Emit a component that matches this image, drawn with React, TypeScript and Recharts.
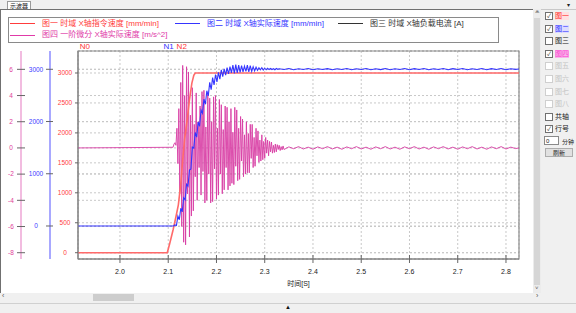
import React from 'react';
import { LineChart, Line, XAxis, YAxis, CartesianGrid, ReferenceLine, ReferenceArea } from 'recharts';

// 曲线名称 / 颜色
const seriesNames = [
  '图一 时域 X轴指令速度 [mm/min]',
  '图二 时域 X轴实际速度 [mm/min]',
  '图三 时域 X轴负载电流 [A]',
  '图四 一阶微分 X轴实际速度 [m/s^2]',
];
const seriesColors = ['#ff3c3c', '#3535ff', '#333333', '#e03aa8'];

// 刻度
const timeTicks = [2.0, 2.1, 2.2, 2.3, 2.4, 2.5, 2.6, 2.7, 2.8];
const cmdTicks = [0, 500, 1000, 1500, 2000, 2500, 3000];
const actTicks = [0, 1000, 2000, 3000];
const accTicks = [-8, -6, -4, -2, 0, 2, 4, 6];

// 光标
const cursorNames = ['N0', 'N1', 'N2'];
const cursorTimes = [1.927, 2.101, 2.128];
const cursorColors = ['#ff3333', '#3333ff', '#ff3333'];

// 图一 指令速度
const cmdTime = [1.913, 2.098, 2.103, 2.110, 2.116, 2.121, 2.126, 2.130, 2.134, 2.139, 2.144, 2.149, 2.153, 2.156, 2.827];
const cmdSpeed = [0, 0, 150, 380, 600, 800, 1150, 1550, 1900, 2200, 2550, 2830, 2960, 3000, 3000];

// 图二 实际速度 (采样 3ms, 从 2.111s)
const actRiseStart = 2.111;
const actRiseStep = 0.003;
const actRise = [
  0, 20, 10, 190, 120, 340, 270, 540, 500, 800, 760, 1070, 1090, 1510, 1490, 1790, 1700, 1990, 1910, 2220,
  2160, 2430, 2330, 2590, 2490, 2750, 2610, 2840, 2700, 2900, 2760, 2940, 2810, 2990, 2860, 3010, 2890, 3030,
  2910, 3050, 2930, 3080, 2920, 3090, 2930, 3080, 2940, 3070, 2950, 3060, 2960, 3080, 2950, 3070, 2960, 3050,
  2970, 3040, 2980, 3030, 2990, 3030, 2985, 3020, 2990, 3020, 2995, 3015, 2995, 3010, 2990, 3015, 3000, 3010,
];
// 稳态 (采样 10ms, 从 2.34s)
const actTailStart = 2.34;
const actTailStep = 0.01;
const actTail = [
  2995, 3015, 2990, 3010, 2995, 3015, 2990, 3010, 2995, 3012, 2992, 3010, 2995, 3015, 2990, 3010, 2996, 3014,
  2990, 3010, 2994, 3015, 2992, 3010, 2995, 3014, 2990, 3012, 2995, 3015, 2992, 3010, 2995, 3014, 2990, 3012,
  2996, 3015, 2992, 3010, 2995, 3014, 2990, 3012, 2995, 3015, 2992, 3010, 2998,
];

// 图四 一阶微分 (采样 2ms, 从 2.110s)
const accRiseStart = 2.11;
const accRiseStep = 0.002;
const accRise = [
  0.05, 0.3, 0.4, 0.2, 1.5, -1.2, 3.0, -3.5, 5.0, -6.0, 6.3, -7.2, 4.0, -7.4, 6.2, -3.5, 5.8, -6.8, 2.5, -5.2,
  4.6, -4.8, 1.8, -2.2, 4.2, -4.0, 2.0, -1.5, 3.2, -3.6, 4.3, -1.8, 4.4, -4.2, 1.6, -4.0, 4.1, -2.0, 3.8, -4.2,
  2.0, -4.1, 3.9, -1.6, 4.0, -3.9, 1.5, -3.6, 3.7, -2.0, 3.3, -3.5, 1.4, -3.2, 3.2, -1.5, 3.1, -3.2, 2.0, -2.9,
  3.0, -2.7, 1.2, -2.8, 3.1, -1.4, 2.9, -2.5, 1.5, -2.4, 2.4, -1.0, 2.2, -2.2, 1.0, -2.0, 2.0, -1.9, 1.1, -1.9,
  1.8, -0.8, 1.8, -1.5, 0.8, -1.4, 1.5, -0.6, 1.3, -1.1, 0.6, -1.0, 1.0, -0.9, 0.5, -0.8, 0.8, -0.4, 0.6, -0.6,
  0.5, -0.3, 0.45, -0.4, 0.2, -0.35, 0.3, -0.3, 0.25, -0.12, 0.2, -0.2, 0.1, -0.15, 0.15, -0.12,
];
const accTailStart = 2.35;
const accTailStep = 0.01;
const accTail = [
  0.08, -0.06, 0.1, -0.08, 0.06, -0.1, 0.08, -0.06, 0.1, -0.08, 0.06, -0.1, 0.08, -0.06, 0.1, -0.08,
  0.06, -0.1, 0.08, -0.06, 0.1, -0.08, 0.06, -0.1, 0.08, -0.06, 0.1, -0.08, 0.06, -0.1, 0.08, -0.06,
  0.1, -0.08, 0.06, -0.1, 0.08, -0.06, 0.1, -0.08, 0.06, -0.1, 0.08, -0.06, 0.1, -0.08, 0.06, -0.05,
];

// 右侧面板
const panelLabels = ['图一', '图二', '图三', '图四', '图五', '图六', '图七', '图八', '共轴', '行号'];
const panelChecked = [true, true, false, true, false, false, false, false, false, true];

const FONT = "'Liberation Sans', 'Noto Sans CJK SC', sans-serif";

// y 轴 id: 排序决定从内到外的位置
const CMD = 'y1';
const ACT = 'y2';
const ACC = 'y3';

const seq = (start: number, step: number, vals: number[]) =>
  vals.map((v, i) => ({ t: +(start + i * step).toFixed(4), v }));

const SideTick = (props: any) => {
  const { x, y, payload, fill, left, right, dx } = props;
  return (
    <g>
      <line x1={x - left} x2={x + right} y1={y} y2={y} stroke="#666" />
      <text x={x - dx} y={y} dy={2.3} textAnchor="middle" fontSize={6.5} fill={fill} fontFamily={FONT}>
        {payload.value}
      </text>
    </g>
  );
};

const TimeTick = (props: any) => {
  const { x, y, payload } = props;
  return (
    <g>
      <line x1={x} x2={x} y1={y - 4} y2={y + 4} stroke="#666" />
      <text x={x} y={y + 14.5} textAnchor="middle" fontSize={7} fill="#222" fontFamily={FONT}>
        {payload.value.toFixed(1)}
      </text>
    </g>
  );
};

const LegendItem = ({ left, top, color, name }: any) => (
  <div style={{ position: 'absolute', left, top, height: 10, display: 'flex', alignItems: 'center', whiteSpace: 'nowrap' }}>
    <div style={{ width: 25, height: 1, background: color }} />
    <span style={{ marginLeft: 7, color, fontSize: 8, lineHeight: '10px' }}>{name}</span>
  </div>
);

const CheckRow = ({ top, label, checked, disabled, color, bg }: any) => (
  <div style={{ position: 'absolute', left: 545, top: top - 4, height: 8, display: 'flex', alignItems: 'center' }}>
    <div
      style={{
        width: 6, height: 6, border: `1px solid ${disabled ? '#cfcfcf' : '#707070'}`, background: '#fff',
        fontSize: 6, lineHeight: '6px', textAlign: 'center', color: '#333',
      }}
    >
      {checked ? '✓' : ''}
    </div>
    <span style={{ marginLeft: 2, fontSize: 7, lineHeight: '8px', color, background: bg }}>{label}</span>
  </div>
);

export default function App() {
  const cmdData = cmdTime.map((t, i) => ({ t, v: cmdSpeed[i] }));
  const actData = [
    { t: 1.913, v: 0 },
    ...seq(actRiseStart, actRiseStep, actRise),
    ...seq(actTailStart, actTailStep, actTail),
    { t: 2.827, v: 3005 },
  ];
  const accData = [
    { t: 1.913, v: 0 },
    ...seq(accRiseStart, accRiseStep, accRise),
    ...seq(accTailStart, accTailStep, accTail),
    { t: 2.827, v: 0 },
  ];

  const labelStyle = (i: number) => {
    if (i === 0) return { color: '#ff2a2a', bg: '#ffe0e0' };
    if (i === 1) return { color: '#2a2aff', bg: '#dcdcff' };
    if (i === 3) return { color: '#ff3ad0', bg: '#f6b6ea' };
    if (i >= 4 && i <= 7) return { color: '#c4c4c4', bg: 'transparent' };
    return { color: '#222', bg: 'transparent' };
  };

  return (
    <div style={{ position: 'fixed', left: 0, top: 0, width: 576, height: 313, background: '#f0f0f0', overflow: 'hidden', fontFamily: FONT }}>
      {/* 顶部标签 */}
      <div style={{ position: 'absolute', left: 0, top: 0, width: 576, height: 9, borderBottom: '1px solid #c8c8c8' }} />
      <div style={{ position: 'absolute', left: 7, top: 1, width: 22, height: 8, background: '#fff', border: '1px solid #9a9a9a', borderBottom: 'none', fontSize: 6, lineHeight: '8px', textAlign: 'center', color: '#222' }}>
        示波器
      </div>
      <div style={{ position: 'absolute', left: 567, top: 1, fontSize: 6, color: '#222' }}>▾</div>

      {/* 图表面板 */}
      <div style={{ position: 'absolute', left: 0, top: 9, width: 532, height: 283, background: '#fff', border: '1px solid #707070' }} />

      {/* 图例 */}
      <div style={{ position: 'absolute', left: 8, top: 17, width: 489, height: 24, border: '1px solid #8a8a8a', background: '#fff' }} />
      <LegendItem left={10} top={18.5} color={seriesColors[0]} name={seriesNames[0]} />
      <LegendItem left={175} top={18.5} color={seriesColors[1]} name={seriesNames[1]} />
      <LegendItem left={338} top={18.5} color={seriesColors[2]} name={seriesNames[2]} />
      <LegendItem left={10} top={30} color={seriesColors[3]} name={seriesNames[3]} />

      <div style={{ position: 'absolute', left: 0, top: 0 }}>
        <LineChart width={533} height={292} margin={{ top: 51, right: 14, bottom: 3, left: 0 }}>
          <CartesianGrid yAxisId={CMD} stroke="#c8c8c8" strokeDasharray="2 2" />
          <CartesianGrid yAxisId={ACT} vertical={false} stroke="#c8c8c8" strokeDasharray="2 2" />
          <CartesianGrid yAxisId={ACC} vertical={false} stroke="#c8c8c8" strokeDasharray="2 2" />
          <XAxis
            type="number"
            dataKey="t"
            domain={[1.913, 2.827]}
            ticks={timeTicks}
            allowDataOverflow
            height={30}
            stroke="#808080"
            tickSize={0}
            tickMargin={0}
            tickLine={false}
            tick={(p: any) => <TimeTick {...p} />}
            label={{ value: '时间[S]', position: 'insideBottom', offset: 3, fontSize: 7, fill: '#222' }}
          />
          <YAxis
            yAxisId={CMD}
            width={28}
            domain={[-105, 3367]}
            ticks={cmdTicks}
            allowDataOverflow
            stroke="#808080"
            tickSize={0}
            tickMargin={0}
            tickLine={false}
            tick={(p: any) => <SideTick {...p} fill="#ff4040" left={3} right={0} dx={13} />}
          />
          <YAxis
            yAxisId={ACT}
            width={29}
            domain={[-632, 3350]}
            ticks={actTicks}
            allowDataOverflow
            axisLine={{ stroke: '#a8a8ff', strokeWidth: 2 }}
            tickSize={0}
            tickMargin={0}
            tickLine={false}
            tick={(p: any) => <SideTick {...p} fill="#4040ff" left={4} right={3} dx={14} />}
          />
          <YAxis
            yAxisId={ACC}
            width={21}
            domain={[-8.48, 7.4]}
            ticks={accTicks}
            allowDataOverflow
            axisLine={{ stroke: '#eea6d6', strokeWidth: 1.5 }}
            tickSize={0}
            tickMargin={0}
            tickLine={false}
            tick={(p: any) => <SideTick {...p} fill="#e0409a" left={4} right={4} dx={10} />}
          />
          <ReferenceArea yAxisId={CMD} x1={1.913} x2={2.827} y1={-105} y2={3367} fill="none" stroke="#8c8c8c" strokeWidth={1.2} />
          {cursorNames.map((n, i) => (
            <ReferenceLine
              key={n}
              yAxisId={CMD}
              x={cursorTimes[i]}
              stroke="none"
              label={{ value: n, position: 'top', offset: 2, fill: cursorColors[i], fontSize: 8 }}
            />
          ))}
          <Line yAxisId={ACC} data={accData} dataKey="v" stroke="#d83ca4" strokeWidth={0.9} dot={false} isAnimationActive={false} />
          <Line yAxisId={CMD} data={cmdData} dataKey="v" stroke="#ff6a6a" strokeWidth={1.6} dot={false} isAnimationActive={false} />
          <Line yAxisId={ACT} data={actData} dataKey="v" stroke={seriesColors[1]} strokeWidth={1.1} dot={false} isAnimationActive={false} />
        </LineChart>
      </div>

      {/* 竖直滚动条 */}
      <div style={{ position: 'absolute', left: 533, top: 9, width: 8, height: 284, background: '#ececec' }} />
      <div style={{ position: 'absolute', left: 534, top: 18, width: 6, height: 267, background: '#d6d6d6' }} />
      <div style={{ position: 'absolute', left: 535, top: 9, fontSize: 6, color: '#555' }}>˄</div>
      <div style={{ position: 'absolute', left: 535, top: 285, fontSize: 6, color: '#555' }}>˅</div>

      {/* 水平滚动条 */}
      <div style={{ position: 'absolute', left: 0, top: 293, width: 541, height: 9, background: '#f0f0f0' }} />
      <div style={{ position: 'absolute', left: 93, top: 294, width: 41, height: 7, background: '#cdcdcd' }} />
      <div style={{ position: 'absolute', left: 2, top: 292, fontSize: 7, color: '#555' }}>‹</div>
      <div style={{ position: 'absolute', left: 536, top: 292, fontSize: 7, color: '#555' }}>›</div>

      {/* 底部 */}
      <div style={{ position: 'absolute', left: 0, top: 303, width: 576, height: 10, borderTop: '1px solid #d0d0d0' }} />
      <div style={{ position: 'absolute', left: 285, top: 304, fontSize: 6, color: '#111' }}>▲</div>

      {/* 右侧面板 */}
      <div style={{ position: 'absolute', left: 536, top: 9, fontSize: 6, color: '#555' }}>˄</div>
      {panelLabels.map((l, i) => {
        const s = labelStyle(i);
        return (
          <CheckRow
            key={l}
            top={16 + i * 12.6}
            label={l}
            checked={panelChecked[i]}
            disabled={i >= 4 && i <= 7}
            color={s.color}
            bg={s.bg}
          />
        );
      })}
      <div style={{ position: 'absolute', left: 544, top: 136, width: 15, height: 9, background: '#fff', border: '1px solid #8a8a8a', fontSize: 6, lineHeight: '9px', paddingLeft: 1, boxSizing: 'border-box', color: '#222' }}>
        0
      </div>
      <div style={{ position: 'absolute', left: 562, top: 137, fontSize: 6, color: '#222' }}>分钟</div>
      <div style={{ position: 'absolute', left: 545, top: 148, width: 28, height: 9, background: '#e1e1e1', border: '1px solid #adadad', boxSizing: 'border-box', fontSize: 6, lineHeight: '8px', textAlign: 'center', color: '#222' }}>
        刷新
      </div>
    </div>
  );
}
